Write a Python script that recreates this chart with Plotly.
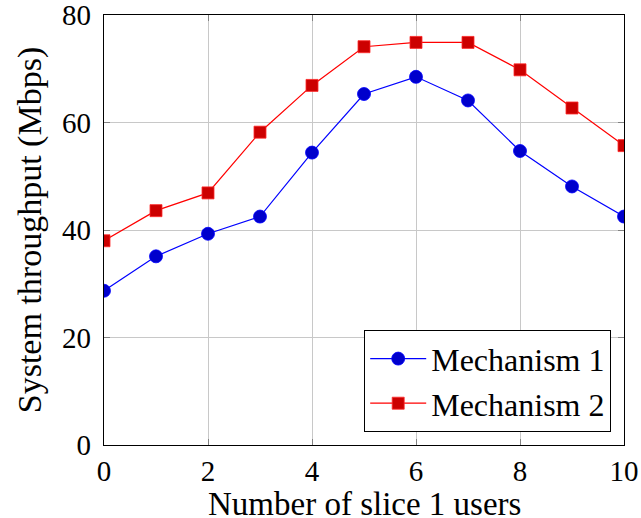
import plotly.graph_objects as go

users = [0, 1, 2, 3, 4, 5, 6, 7, 8, 9, 10]
mech1 = [28.7, 35.1, 39.3, 42.5, 54.4, 65.3, 68.5, 64.1, 54.7, 48.1, 42.5]
mech2 = [38.0, 43.6, 46.9, 58.2, 66.9, 74.1, 74.9, 74.9, 69.8, 62.7, 55.7]
x_ticks = [0, 2, 4, 6, 8, 10]
y_ticks = [0, 20, 40, 60, 80]
x_title = "Number of slice 1 users"
y_title = "System throughput (Mbps)"

FONT = "Liberation Serif"

fig = go.Figure()
fig.add_trace(go.Scatter(
    x=users, y=mech1, mode="lines+markers", name="Mechanism 1",
    line=dict(color="rgb(0,0,255)", width=1.2),
    marker=dict(symbol="circle", size=13, color="rgb(0,0,204)",
                line=dict(color="rgb(0,0,255)", width=0.8)),
))
fig.add_trace(go.Scatter(
    x=users, y=mech2, mode="lines+markers", name="Mechanism 2",
    line=dict(color="rgb(255,0,0)", width=1.2),
    marker=dict(symbol="square", size=12, color="rgb(204,0,0)",
                line=dict(color="rgb(255,40,40)", width=0.8)),
))

axis_common = dict(
    showgrid=True, gridcolor="rgb(200,200,200)", gridwidth=1,
    showline=True, linecolor="black", linewidth=1.2, mirror="ticks",
    ticks="inside", ticklen=6, tickcolor="rgb(130,130,130)", tickwidth=1,
    zeroline=False, automargin=False, ticklabeloverflow="allow",
    tickfont=dict(family=FONT, size=29, color="black"),
)

fig.update_xaxes(range=[0, 10], tickvals=x_ticks, **axis_common,
                 ticklabelstandoff=0)
fig.update_yaxes(range=[0, 80], tickvals=y_ticks, **axis_common,
                 ticklabelstandoff=6,
                 title=dict(text=y_title,
                            font=dict(family=FONT, size=34, color="black"),
                            standoff=10))

fig.add_annotation(
    text=x_title, xref="paper", yref="paper", x=0.5, y=-0.137,
    xanchor="center", yanchor="middle", showarrow=False,
    font=dict(family=FONT, size=33, color="black"),
)

fig.update_layout(
    width=641, height=518,
    margin=dict(l=104, r=17, t=15, b=73),
    paper_bgcolor="white", plot_bgcolor="white",
    showlegend=True,
    legend=dict(
        x=0.975, y=0.03, xanchor="right", yanchor="bottom",
        bgcolor="white", bordercolor="black", borderwidth=1.2,
        font=dict(family=FONT, size=32, color="black"),
        itemwidth=56, tracegroupgap=0,
    ),
)

fig.write_html("out.html")
